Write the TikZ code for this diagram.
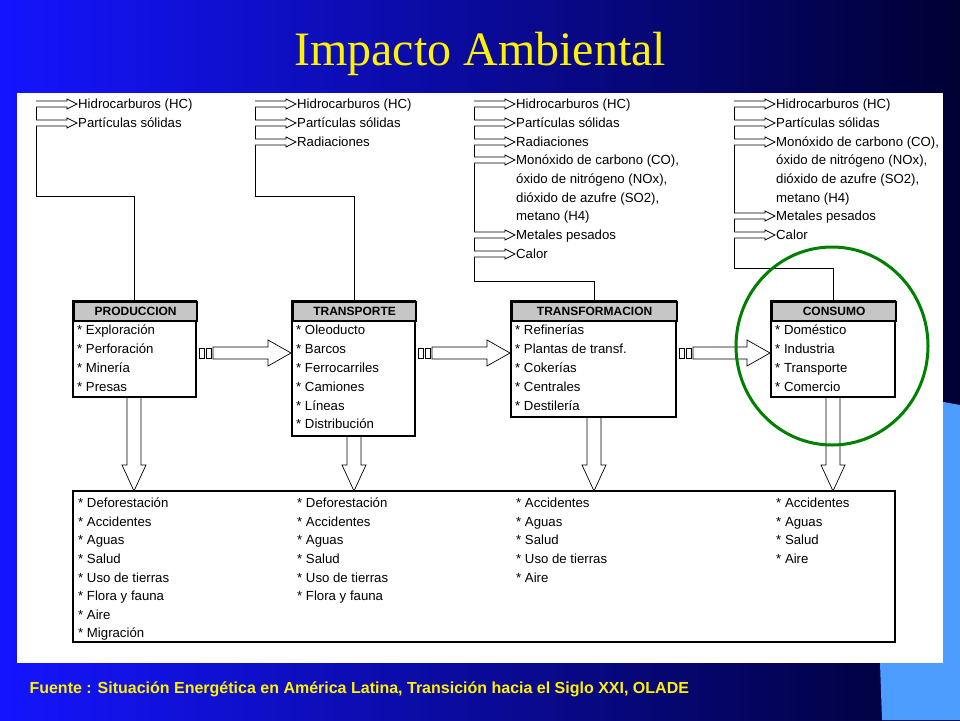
\documentclass[tikz,border=0pt]{standalone}
\usepackage{fontspec}
\setmainfont{Liberation Sans}
\newfontfamily\serifttl{Liberation Serif}
\begin{document}
\begin{tikzpicture}[x=1pt,y=-1pt,
  txt/.style={anchor=base west,inner sep=0pt,font=\fontsize{13.2}{15}\selectfont},
  boxframe/.style={draw,line width=2.2pt},
  hdr/.style={fill=gray!45,draw,line width=2.2pt,font=\bfseries\fontsize{12}{14}\selectfont},
  tree/.style={line width=0.7pt},
  hollow/.style={draw,fill=white,line width=0.7pt}]
\useasboundingbox (0,0) rectangle (960,720);
\shade[left color=blue!92!white,right color=blue!20!black] (0,0) rectangle (960,720);
\fill[blue!55!cyan!70!white] (905,395)--(960,405)--(960,720)--(882,720)--(880,663)--(905,663)--cycle;
\fill[white] (17,93) rectangle (943,663);
\node (title) at (480,54) {\serifttl\fontsize{48}{52}\selectfont\color{yellow}Impacto Ambiental};
\node (foot) [anchor=west,text=yellow,font=\bfseries\fontsize{16}{18}\selectfont] at (26,689) {Fuente : Situación Energética en América Latina, Transición hacia el Siglo XXI, OLADE};
% boxes
\newcommand{\procbox}[5]{% name, x1, x2, ybot, title
  \draw[boxframe,fill=white] (#2,301) rectangle (#3,#4);
  \node[hdr,minimum width=#3-#2,minimum height=19,anchor=north west,inner sep=0pt] (#1) at (#2,301) {#5};
}
\procbox{prod}{73}{196}{397}{PRODUCCION}
\procbox{trans}{292}{415}{436}{TRANSPORTE}
\procbox{tfor}{511}{676}{417}{TRANSFORMACION}
\procbox{cons}{771}{895}{397}{CONSUMO}
\draw[boxframe] (73,491) rectangle (895,642); \node (imp) at (484,566) {};
\newcommand{\items}[2]{\foreach \t [count=\i] in {#2}{\node[txt] at (#1,{316+\i*18.8}) {\t};}}
\items{77}{* Exploración,* Perforación,* Minería,* Presas}
\items{296}{* Oleoducto,* Barcos,* Ferrocarriles,* Camiones,* Líneas,* Distribución}
\items{515}{* Refinerías,* Plantas de transf.,* Cokerías,* Centrales,* Destilería}
\items{775}{* Doméstico,* Industria,* Transporte,* Comercio}
\newcommand{\bitems}[2]{\foreach \t [count=\i] in {#2}{\node[txt] at (#1,{489+\i*18.6}) {\t};}}
\bitems{78}{* Deforestación,* Accidentes,* Aguas,* Salud,* Uso de tierras,* Flora y fauna,* Aire,* Migración}
\bitems{297}{* Deforestación,* Accidentes,* Aguas,* Salud,* Uso de tierras,* Flora y fauna}
\bitems{516}{* Accidentes,* Aguas,* Salud,* Uso de tierras,* Aire}
\bitems{776}{* Accidentes,* Aguas,* Salud,* Aire}
% emission trees
\newcommand{\emarrow}[2]{\draw[tree,fill=white] (#1,{#2-3})--({#1+31},{#2-3})--({#1+31},{#2-5})--({#1+41},#2)--({#1+31},{#2+5})--({#1+31},{#2+3})--(#1,{#2+3});}
\newcommand{\tree}[4]{% xleft, ybend, xbox, list (y:text)
  \draw[tree] (#1,101)--(#1,#2)--(#3,#2)--(#3,301);
  \foreach \yy/\t in {#4}{\node[txt] at ({#1+42},\yy+4.5) {\t};}
}
\tree{36}{196}{134}{104/Hidrocarburos (HC),123/Partículas sólidas}
\foreach \yy in {104,123}{\emarrow{36}{\yy}}
\tree{255}{196}{354}{104/Hidrocarburos (HC),123/Partículas sólidas,142/Radiaciones}
\foreach \yy in {104,123,142}{\emarrow{255}{\yy}}
\tree{474}{281}{594}{104/Hidrocarburos (HC),123/Partículas sólidas,142/Radiaciones,160/{Monóxido de carbono (CO),},179/{óxido de nitrógeno (NOx),},198/{dióxido de azufre (SO2),},216/metano (H4),235/Metales pesados,254/Calor}
\foreach \yy in {104,123,142,160,235,254}{\emarrow{474}{\yy}}
\tree{734}{268}{833}{104/Hidrocarburos (HC),123/Partículas sólidas,142/{Monóxido de carbono (CO),},160/{óxido de nitrógeno (NOx),},179/{dióxido de azufre (SO2),},198/metano (H4),216/Metales pesados,235/Calor}
\foreach \yy in {104,123,142,216,235}{\emarrow{734}{\yy}}
% horizontal connectors
\newcommand{\hconn}[2]{%
  \draw[tree] ({#1+3},348) rectangle ({#1+8},358);
  \draw[tree] ({#1+10},348) rectangle ({#1+15},358);
  \draw[hollow] ({#1+17},347)--({#2-24},347)--({#2-24},340)--({#2-1},353)--({#2-24},366)--({#2-24},359)--({#1+17},359)--cycle;}
\hconn{196}{292}
\hconn{415}{511}
\hconn{676}{771}
% down arrows
\newcommand{\dconn}[2]{%
  \draw[hollow] ({#1-7},{#2+1})--({#1-7},465)--({#1-12},465)--(#1,491)--({#1+12},465)--({#1+7},465)--({#1+7},{#2+1});}
\dconn{134}{397}
\dconn{354}{436}
\dconn{594}{417}
\dconn{833}{397}
\draw[green!50!black,line width=3pt] (832,346) ellipse [x radius=96,y radius=99];
\end{tikzpicture}
\end{document}
